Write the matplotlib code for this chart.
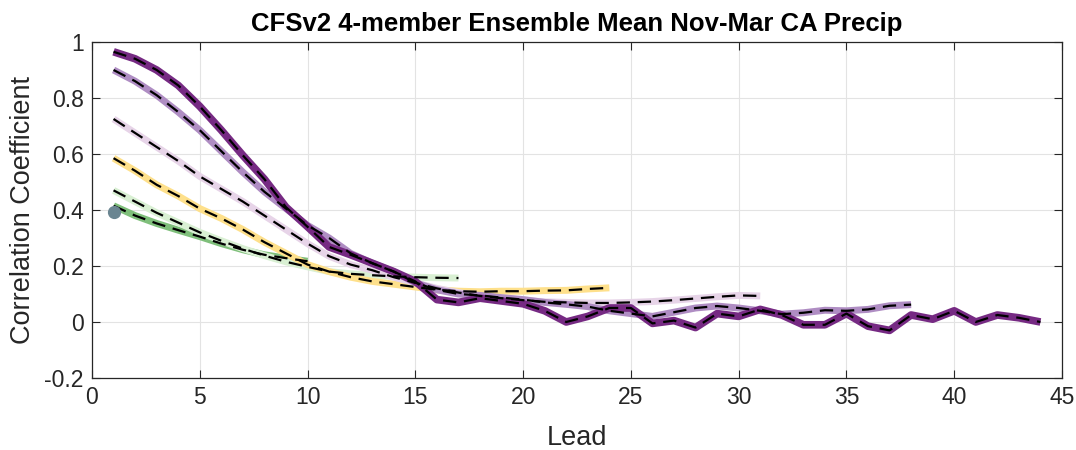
import numpy as np
import matplotlib.pyplot as plt

plt.rcParams['font.family'] = ['Liberation Sans', 'DejaVu Sans']

# correlation by lead for each forecast start
corr_a = [0.965, 0.94, 0.90, 0.845, 0.77, 0.685, 0.595, 0.51, 0.41, 0.34,
          0.268, 0.24, 0.21, 0.18, 0.145, 0.08, 0.07, 0.085, 0.075, 0.065,
          0.04, 0.0, 0.02, 0.05, 0.05, -0.005, 0.005, -0.02, 0.03, 0.02,
          0.045, 0.025, -0.01, -0.01, 0.03, -0.015, -0.03, 0.025, 0.01, 0.04,
          0.0, 0.025, 0.015, 0.0]
corr_b = [0.90, 0.86, 0.81, 0.75, 0.685, 0.61, 0.535, 0.465, 0.405, 0.345,
          0.30, 0.245, 0.21, 0.18, 0.14, 0.115, 0.10, 0.095, 0.087, 0.08,
          0.07, 0.063, 0.055, 0.04, 0.03, 0.02, 0.035, 0.05, 0.057, 0.05,
          0.04, 0.028, 0.033, 0.042, 0.04, 0.045, 0.058, 0.062]
corr_c = [0.725, 0.675, 0.625, 0.575, 0.52, 0.475, 0.43, 0.38, 0.33, 0.28,
          0.235, 0.205, 0.185, 0.16, 0.14, 0.12, 0.105, 0.093, 0.085, 0.078,
          0.072, 0.07, 0.068, 0.068, 0.07, 0.073, 0.078, 0.084, 0.09, 0.095,
          0.093]
corr_d = [0.585, 0.54, 0.49, 0.45, 0.405, 0.37, 0.33, 0.285, 0.245, 0.205,
          0.18, 0.16, 0.145, 0.135, 0.125, 0.115, 0.11, 0.108, 0.11, 0.11,
          0.112, 0.113, 0.118, 0.122]
corr_e = [0.47, 0.43, 0.39, 0.355, 0.32, 0.29, 0.262, 0.237, 0.215, 0.197,
          0.18, 0.172, 0.167, 0.163, 0.16, 0.158, 0.157]
corr_f = [0.415, 0.38, 0.352, 0.328, 0.305, 0.28, 0.258, 0.24, 0.228, 0.217]
obs_lead = [1]
obs_corr = [0.393]

series = [corr_f, corr_e, corr_d, corr_c, corr_b, corr_a]
colors = ['#7fbf7b', '#d9f0d3', '#fee08b', '#e7d4e8', '#af8dc3', '#762a83']
widths = [5, 5, 5, 5, 5, 5.5]

fig = plt.figure(figsize=(10.76, 4.5), dpi=100)
ax = fig.add_axes([0.0855, 0.16, 0.9015, 0.7467])

for vals, col, w in zip(series, colors, widths):
    lead = np.arange(1, len(vals) + 1)
    ax.plot(lead, vals, color=col, lw=w, solid_capstyle='butt',
            solid_joinstyle='round', zorder=2)
    ax.plot(lead, vals, color='black', lw=1.6, ls=(0, (6, 3.5)), zorder=3)

ax.plot(obs_lead, obs_corr, 'o', ms=8.5, color='#6a8591', zorder=4)

ax.set_xlim(0, 45)
ax.set_ylim(-0.2, 1)
ax.set_xticks(np.arange(0, 46, 5))
ax.set_yticks(np.arange(-0.2, 1.01, 0.2))
ax.set_yticklabels(['-0.2', '0', '0.2', '0.4', '0.6', '0.8', '1'])
ax.tick_params(direction='in', labelsize=16.5, length=6, color='#262626',
               top=True, right=True, labelcolor='#262626', pad=6)
ax.grid(True, color='#e3e3e3', lw=0.8)
ax.set_axisbelow(True)
for sp in ax.spines.values():
    sp.set_color('#262626')
    sp.set_linewidth(0.9)

ax.set_xlabel('Lead', fontsize=19.5, color='#262626', labelpad=11)
ax.set_ylabel('Correlation Coefficient', fontsize=19.5, color='#262626',
              labelpad=6)
ax.set_title('CFSv2 4-member Ensemble Mean Nov-Mar CA Precip',
             fontsize=18.5, fontweight='bold', pad=8)

fig.savefig('out.png', dpi=100)
